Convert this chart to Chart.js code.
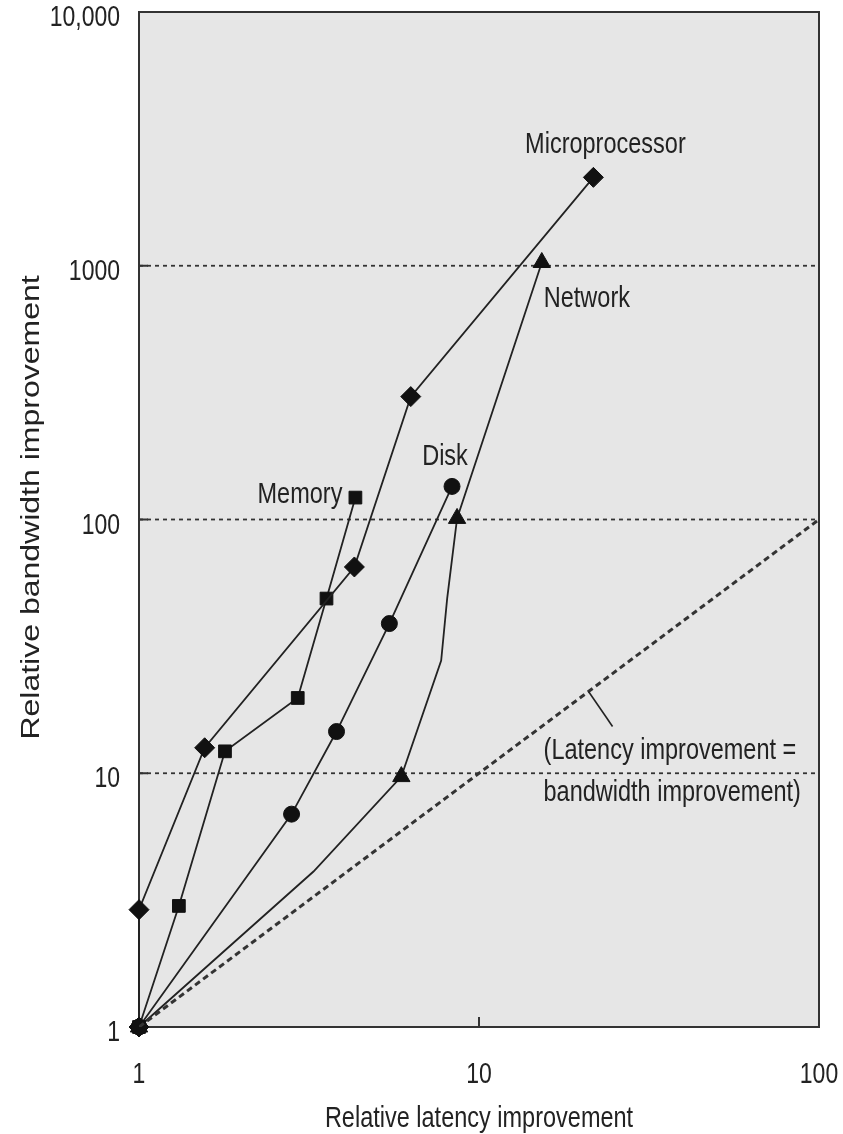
<!DOCTYPE html>
<html>
<head>
<meta charset="utf-8">
<script src="https://cdn.jsdelivr.net/npm/chart.js@4.4.1/dist/chart.umd.min.js"></script>
<style>
  body { margin: 0; background: #fff; }
</style>
</head>
<body>
<canvas id="chart" width="843" height="1134"></canvas>
<script>
// relative improvements
const microLatency = [1, 1, 1.56, 4.3, 6.3, 21.7];
const microBandwidth = [1, 2.9, 12.6, 65, 305, 2230];
const memoryLatency = [1, 1.31, 1.79, 2.93, 3.56, 4.33];
const memoryBandwidth = [1, 3.0, 12.2, 19.8, 48.8, 122];
const diskLatency = [1, 2.81, 3.81, 5.45, 8.33];
const diskBandwidth = [1, 6.9, 14.6, 38.9, 135];
const networkLatency = [1, 3.26, 5.91, 7.74, 8.06, 8.62, 15.3];
const networkBandwidth = [1, 4.1, 9.7, 27.8, 48.8, 101, 1030];
const networkMarked = [true, false, true, false, false, true, true];
const equalLine = [1, 100];
const noteAt = 21;

const xTicks = [1, 10, 100];
const xTickLabels = ["1", "10", "100"];
const yTicks = [1, 10, 100, 1000, 10000];
const yTickLabels = ["1", "10", "100", "1000", "10,000"];
const gridLevels = [10, 100, 1000];

const xTitle = "Relative latency improvement";
const yTitle = "Relative bandwidth improvement";

const FONT = '"Liberation Sans", Arial, Helvetica, sans-serif';
const INK = "#222";
const STRETCH = 1.28; // the original lettering is tall and narrow

// text drawn a bit taller than wide, like the source figure
function tallText(ctx, text, x, y, align, size) {
  ctx.save();
  ctx.translate(x, y);
  ctx.scale(1, STRETCH);
  ctx.font = size + "px " + FONT;
  ctx.textAlign = align;
  ctx.textBaseline = "alphabetic";
  ctx.fillText(text, 0, 0);
  ctx.restore();
}

function pts(xs, ys) {
  return xs.map((x, i) => ({ x: x, y: ys[i] }));
}

// gray plot area, dotted grid, frame, inward ticks, all the lettering
const decor = {
  id: "decor",
  beforeDraw(chart) {
    const { ctx, chartArea: a } = chart;
    ctx.save();
    ctx.fillStyle = "#fff";
    ctx.fillRect(0, 0, chart.width, chart.height);
    ctx.fillStyle = "#e6e6e6";
    ctx.fillRect(a.left, a.top, a.right - a.left, a.bottom - a.top);
    ctx.restore();
  },
  beforeDatasetsDraw(chart) {
    const { ctx, chartArea: a, scales } = chart;
    ctx.save();
    ctx.strokeStyle = "#333";
    ctx.lineWidth = 1.8;
    ctx.setLineDash([4, 4]);
    gridLevels.forEach(v => {
      const y = scales.y.getPixelForValue(v);
      ctx.beginPath();
      ctx.moveTo(a.left, y);
      ctx.lineTo(a.right, y);
      ctx.stroke();
    });
    ctx.setLineDash([]);
    ctx.lineWidth = 2;
    ctx.strokeRect(a.left, a.top, a.right - a.left, a.bottom - a.top);
    ctx.beginPath();
    yTicks.slice(1, -1).forEach(v => {
      const y = scales.y.getPixelForValue(v);
      ctx.moveTo(a.left, y);
      ctx.lineTo(a.left + 9, y);
    });
    xTicks.slice(1, -1).forEach(v => {
      const x = scales.x.getPixelForValue(v);
      ctx.moveTo(x, a.bottom);
      ctx.lineTo(x, a.bottom - 10);
    });
    ctx.stroke();
    ctx.restore();
  },
  afterDatasetsDraw(chart) {
    const { ctx, chartArea: a, scales } = chart;
    const last = i => {
      const d = chart.getDatasetMeta(i).data;
      return d[d.length - 1];
    };
    ctx.save();
    ctx.fillStyle = INK;

    // tick labels
    xTicks.forEach((v, i) => {
      tallText(ctx, xTickLabels[i], scales.x.getPixelForValue(v), a.bottom + 56, "center", 23);
    });
    yTicks.forEach((v, i) => {
      tallText(ctx, yTickLabels[i], a.left - 19, scales.y.getPixelForValue(v) + 14, "right", 23);
    });

    // axis titles
    tallText(ctx, xTitle, (a.left + a.right) / 2, a.bottom + 100, "center", 23.5);
    ctx.save();
    ctx.translate(39, (a.top + a.bottom) / 2 - 12);
    ctx.rotate(-Math.PI / 2);
    ctx.scale(STRETCH, 1);
    ctx.font = "25px " + FONT;
    ctx.textAlign = "center";
    ctx.textBaseline = "alphabetic";
    ctx.fillText(yTitle, 0, 0);
    ctx.restore();

    // series names next to their last points
    let p = last(1);
    tallText(ctx, "Microprocessor", p.x + 12, p.y - 24, "center", 23.5);
    p = last(4);
    tallText(ctx, "Network", p.x + 2, p.y + 45, "left", 23.5);
    p = last(3);
    tallText(ctx, "Disk", p.x - 7, p.y - 21, "center", 23.5);
    p = last(2);
    tallText(ctx, "Memory", p.x - 13, p.y + 5, "right", 23.5);

    // note on the diagonal
    const nx = scales.x.getPixelForValue(noteAt);
    const ny = scales.y.getPixelForValue(noteAt);
    ctx.strokeStyle = INK;
    ctx.lineWidth = 1.6;
    ctx.beginPath();
    ctx.moveTo(nx, ny);
    ctx.lineTo(nx + 24, ny + 35);
    ctx.stroke();
    tallText(ctx, "(Latency improvement =", nx - 45, ny + 68, "left", 23.5);
    tallText(ctx, "bandwidth improvement)", nx - 45, ny + 110, "left", 23.5);
    ctx.restore();
  }
};

const lineStyle = {
  borderColor: INK,
  backgroundColor: "#111",
  pointBorderColor: "#111",
  borderWidth: 1.8,
  pointBorderWidth: 1,
  tension: 0,
  fill: false,
  clip: false
};

new Chart(document.getElementById("chart"), {
  type: "line",
  data: {
    datasets: [
      {
        label: "Latency improvement = bandwidth improvement",
        data: pts(equalLine, equalLine),
        borderColor: "#333",
        borderWidth: 3,
        borderDash: [6, 4],
        pointRadius: 0,
        fill: false
      },
      Object.assign({
        label: "Microprocessor",
        data: pts(microLatency, microBandwidth),
        pointStyle: "rectRot",
        pointRadius: 10
      }, lineStyle),
      Object.assign({
        label: "Memory",
        data: pts(memoryLatency, memoryBandwidth),
        pointStyle: "rect",
        pointRadius: 9
      }, lineStyle),
      Object.assign({
        label: "Disk",
        data: pts(diskLatency, diskBandwidth),
        pointStyle: "circle",
        pointRadius: 8
      }, lineStyle),
      Object.assign({
        label: "Network",
        data: pts(networkLatency, networkBandwidth),
        pointStyle: "triangle",
        pointRadius: networkMarked.map(m => (m ? 10 : 0))
      }, lineStyle)
    ]
  },
  options: {
    responsive: false,
    animation: false,
    layout: { padding: { top: 12, right: 24, left: 0, bottom: 0 } },
    plugins: {
      legend: { display: false },
      tooltip: { enabled: false }
    },
    scales: {
      x: {
        type: "logarithmic",
        position: "bottom",
        min: 1,
        max: 100,
        afterBuildTicks: s => { s.ticks = xTicks.map(v => ({ value: v })); },
        afterFit: s => { s.height = 107; s.paddingLeft = 0; s.paddingRight = 0; },
        ticks: { display: false },
        grid: { display: false, drawTicks: false },
        border: { display: false },
        title: { display: false, text: xTitle }
      },
      y: {
        type: "logarithmic",
        min: 1,
        max: 10000,
        afterBuildTicks: s => { s.ticks = yTicks.map(v => ({ value: v })); },
        afterFit: s => { s.width = 139; s.paddingTop = 0; s.paddingBottom = 0; },
        ticks: { display: false },
        grid: { display: false, drawTicks: false },
        border: { display: false },
        title: { display: false, text: yTitle }
      }
    }
  },
  plugins: [decor]
});
</script>
</body>
</html>
